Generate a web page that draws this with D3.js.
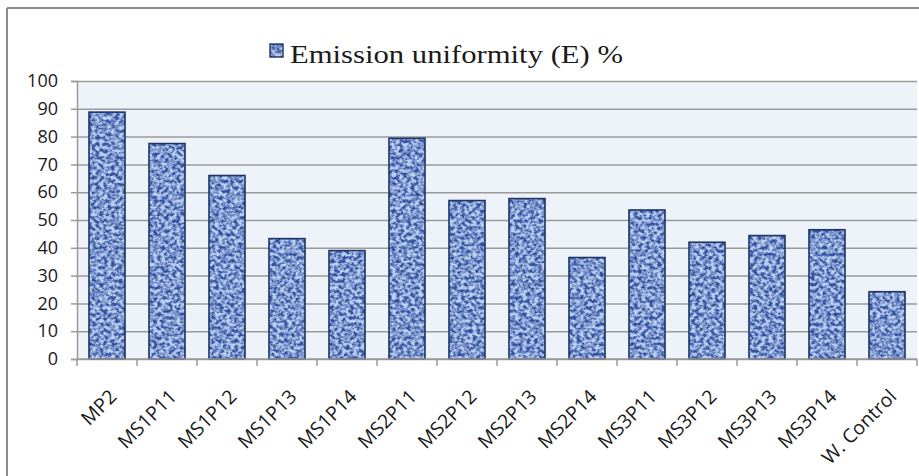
<!DOCTYPE html>
<html>
<head>
<meta charset="utf-8">
<script src="https://cdn.jsdelivr.net/npm/d3@7/dist/d3.min.js"></script>
<style>
  html, body { margin: 0; padding: 0; background: #ffffff; }
  svg { display: block; }
  .ytick text { font-family: "Open Sans", sans-serif; font-size: 18px; fill: #1a1a1a; }
  .xlabel { font-family: "Open Sans", sans-serif; font-size: 19.5px; fill: #1a1a1a; }
  .legend-text { font-family: "Liberation Serif", "Times New Roman", serif; font-size: 25px; fill: #1a1a1a; }
</style>
</head>
<body>
<svg id="chart" width="919" height="476"></svg>
<script>
// Treatments and their emission uniformity (E) in percent
const categories = ["MP2", "MS1P11", "MS1P12", "MS1P13", "MS1P14", "MS2P11", "MS2P12",
                    "MS2P13", "MS2P14", "MS3P11", "MS3P12", "MS3P13", "MS3P14", "W. Control"];
const values = [88.8, 77.5, 66.0, 43.3, 39.0, 79.4, 57.0, 57.7, 36.5, 53.6, 42.0, 44.4, 46.5, 24.2];
const yTicks = [0, 10, 20, 30, 40, 50, 60, 70, 80, 90, 100];
const seriesName = "Emission uniformity (E) %";

const svg = d3.select("#chart");
const plot = { left: 77, right: 917, top: 81, bottom: 359 };

const x = d3.scaleBand()
  .domain(categories)
  .range([plot.left, plot.right])
  .paddingInner(0.4)
  .paddingOuter(0.2);

const y = d3.scaleLinear()
  .domain([0, 100])
  .range([plot.bottom, plot.top]);

// Mottled blue fill for the bars, made from fractal noise
const defs = svg.append("defs");
const tex = defs.append("filter")
  .attr("id", "blueTexture")
  .attr("x", 0).attr("y", 0).attr("width", 1).attr("height", 1)
  .attr("color-interpolation-filters", "sRGB");
tex.append("feTurbulence")
  .attr("type", "fractalNoise")
  .attr("baseFrequency", "0.26 0.3")
  .attr("numOctaves", 2)
  .attr("seed", 7)
  .attr("result", "noise");
const ct = tex.append("feComponentTransfer").attr("in", "noise").attr("result", "contrast");
ct.append("feFuncR").attr("type", "linear").attr("slope", 2.8).attr("intercept", -0.85);
ct.append("feFuncA").attr("type", "linear").attr("slope", 0).attr("intercept", 1);
tex.append("feColorMatrix")
  .attr("in", "contrast")
  .attr("type", "matrix")
  .attr("values", [
    0.55, 0, 0, 0, 0.19,
    0.51, 0, 0, 0, 0.31,
    0.33, 0, 0, 0, 0.62,
    0,    0, 0, 0, 1
  ].join(" "))
  .attr("result", "colored");
tex.append("feGaussianBlur")
  .attr("in", "colored")
  .attr("stdDeviation", 0.4)
  .attr("result", "soft");
tex.append("feComposite")
  .attr("in", "soft")
  .attr("in2", "SourceGraphic")
  .attr("operator", "in");

// Outer chart frame
svg.append("line").attr("x1", 7).attr("x2", 7).attr("y1", 8).attr("y2", 476)
  .attr("stroke", "#8c8c8c").attr("stroke-width", 2);
svg.append("line").attr("x1", 7).attr("x2", 919).attr("y1", 8).attr("y2", 8)
  .attr("stroke", "#8c8c8c").attr("stroke-width", 2);

// Plot background
svg.append("rect")
  .attr("x", plot.left).attr("y", plot.top)
  .attr("width", plot.right - plot.left).attr("height", plot.bottom - plot.top)
  .attr("fill", "#eef3f9");

// Horizontal gridlines
svg.append("g")
  .attr("transform", `translate(${plot.left},0)`)
  .call(d3.axisLeft(y).tickValues(yTicks).tickSize(-(plot.right - plot.left)).tickFormat(""))
  .call(g => g.select(".domain").remove())
  .call(g => g.selectAll("line").attr("stroke", "#9a9a9a").attr("stroke-width", 1.5));

// Y axis with ticks and labels
svg.append("g")
  .attr("class", "ytick")
  .attr("transform", `translate(${plot.left},0)`)
  .call(d3.axisLeft(y).tickValues(yTicks).tickSize(6).tickPadding(13))
  .call(g => g.select(".domain").attr("stroke", "#9a9a9a").attr("stroke-width", 1.5))
  .call(g => g.selectAll("line").attr("stroke", "#9a9a9a").attr("stroke-width", 1.5))
  .call(g => g.selectAll("text").attr("font-family", null).attr("font-size", null));

// Bars
const bars = svg.append("g");
bars.selectAll("rect.fill")
  .data(values)
  .join("rect")
  .attr("class", "fill")
  .attr("x", (d, i) => x(categories[i]))
  .attr("y", d => y(d))
  .attr("width", x.bandwidth())
  .attr("height", d => y(0) - y(d))
  .attr("fill", "#5a7fc8")
  .attr("filter", "url(#blueTexture)");
bars.selectAll("rect.edge")
  .data(values)
  .join("rect")
  .attr("class", "edge")
  .attr("x", (d, i) => x(categories[i]))
  .attr("y", d => y(d))
  .attr("width", x.bandwidth())
  .attr("height", d => y(0) - y(d))
  .attr("fill", "none")
  .attr("stroke", "#1c3566")
  .attr("stroke-width", 1.6);

// X axis line and category boundary ticks
const step = x.step();
const gap = step * x.paddingInner() / 2;
svg.append("line")
  .attr("x1", plot.left).attr("x2", plot.right)
  .attr("y1", y(0)).attr("y2", y(0))
  .attr("stroke", "#9a9a9a").attr("stroke-width", 1.5);
const bounds = categories.map(c => x(c) - gap).concat([x(categories[categories.length - 1]) + x.bandwidth() + gap]);
svg.append("g").selectAll("line")
  .data(bounds)
  .join("line")
  .attr("x1", d => d).attr("x2", d => d)
  .attr("y1", y(0)).attr("y2", y(0) + 7)
  .attr("stroke", "#9a9a9a").attr("stroke-width", 1.5);

// Rotated category labels
svg.append("g").selectAll("text")
  .data(categories)
  .join("text")
  .attr("class", "xlabel")
  .attr("text-anchor", "end")
  .attr("transform", c => `translate(${x(c) + x.bandwidth() / 2 + 6},${y(0) + 34}) rotate(-45)`)
  .attr("dy", "0.35em")
  .text(c => c);

// Legend
const legend = svg.append("g");
legend.append("rect")
  .attr("x", 270).attr("y", 44).attr("width", 13).attr("height", 13)
  .attr("fill", "#5a7fc8").attr("filter", "url(#blueTexture)");
legend.append("rect")
  .attr("x", 270).attr("y", 44).attr("width", 13).attr("height", 13)
  .attr("fill", "none").attr("stroke", "#1c3566").attr("stroke-width", 1.4);
legend.append("text")
  .attr("class", "legend-text")
  .attr("x", 290).attr("y", 63)
  .attr("textLength", 333)
  .attr("lengthAdjust", "spacingAndGlyphs")
  .text(seriesName);
</script>
</body>
</html>
